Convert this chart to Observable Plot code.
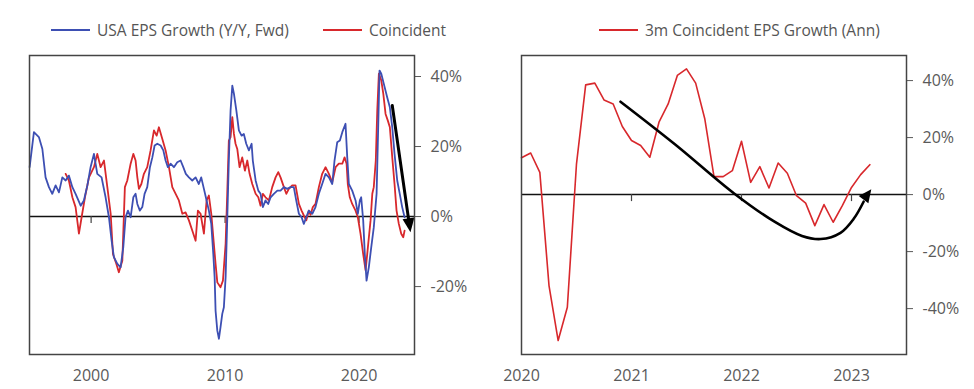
<!DOCTYPE html>
<html><head><meta charset="utf-8">
<script src="https://cdn.jsdelivr.net/npm/d3@7"></script>
<script src="https://cdn.jsdelivr.net/npm/@observablehq/plot@0.6"></script>
<style>
body{margin:0;background:#fff;font-family:"Open Sans",sans-serif;}
#wrap{display:flex;width:974px;height:389px;overflow:hidden;}
.panel{width:487px;position:relative;}
.legend{height:45px;position:relative;font-size:15.5px;color:#555;}
.item{position:absolute;top:20px;display:flex;align-items:center;white-space:nowrap;line-height:20px;}
.sw{width:39px;height:2.5px;margin-right:7px;}
svg{display:block;}
</style></head><body>
<div id="wrap">
  <div class="panel" id="left">
    <div class="legend">
      <div class="item" style="left:51px"><span class="sw" style="background:#3d4fb3"></span>USA EPS Growth (Y/Y, Fwd)</div>
      <div class="item" style="left:323px"><span class="sw" style="background:#d8282c"></span>Coincident</div>
    </div>
  </div>
  <div class="panel" id="right">
    <div class="legend">
      <div class="item" style="left:112px"><span class="sw" style="background:#d8282c"></span>3m Coincident EPS Growth (Ann)</div>
    </div>
  </div>
</div>
<script>
// ---------- Left panel data (decimal years, % growth) ----------
const blueYears = [1995.41,1995.73,1996.10,1996.36,1996.60,1996.85,1997.10,1997.35,1997.60,1997.85,1998.10,1998.34,1998.60,1998.84,1999.22,1999.46,1999.72,1999.96,2000.21,2000.46,2000.78,2001.08,2001.33,2001.53,2001.70,2001.96,2002.20,2002.40,2002.57,2002.75,2002.95,2003.15,2003.32,2003.45,2003.64,2003.82,2003.99,2004.19,2004.39,2004.57,2004.74,2004.94,2005.19,2005.39,2005.56,2005.73,2005.93,2006.18,2006.43,2006.68,2006.88,2007.07,2007.30,2007.55,2007.80,2008.04,2008.22,2008.42,2008.62,2008.79,2008.97,2009.12,2009.22,2009.29,2009.42,2009.54,2009.66,2009.79,2009.91,2010.04,2010.16,2010.28,2010.41,2010.54,2010.66,2010.84,2011.03,2011.23,2011.40,2011.58,2011.78,2011.98,2012.07,2012.28,2012.48,2012.65,2012.82,2013.02,2013.22,2013.40,2013.64,2013.90,2014.14,2014.39,2014.64,2014.89,2015.13,2015.31,2015.51,2015.71,2015.88,2016.06,2016.25,2016.51,2016.75,2017.00,2017.25,2017.50,2017.75,2018.00,2018.17,2018.37,2018.57,2018.75,2018.99,2019.12,2019.24,2019.49,2019.74,2019.91,2020.06,2020.16,2020.31,2020.43,2020.56,2020.73,2020.91,2021.10,2021.31,2021.43,2021.53,2021.66,2021.85,2022.10,2022.30,2022.48,2022.65,2022.85,2023.04,2023.22,2023.40];
const blueValues = [14.1,24.1,22.7,19.3,11.2,8.4,6.5,8.9,6.9,11.2,10.3,11.7,8.4,6.5,3.1,4.6,8.9,14.1,17.9,12.2,11.2,5.5,-0.2,-6.9,-11.6,-13.5,-14.5,-8.8,-0.2,1.7,-0.2,5.5,6.5,3.6,1.7,2.7,6.5,8.4,14.1,16.9,20.3,20.8,20.3,18.9,16,14.1,15.1,14.1,15.5,16,14.1,12.2,11.2,10.3,11.2,9.3,11.2,7.9,4.6,1.7,-2.1,-10.7,-17.3,-26.9,-32.6,-34.9,-31.6,-27.8,-25.9,-17.3,-1.1,16,30.3,37.4,35.1,30.3,24.6,23.1,23.6,20.8,18.9,20.8,16,10.3,7.4,6.5,2.7,4.6,3.6,5.5,6.5,7.4,7.4,8.4,7.9,8.4,8.4,4.6,0.8,-0.2,-2.1,-0.2,1.7,0.8,2.7,6.5,9.3,12.2,11.2,9.3,16,21.2,21.7,24.1,26.5,16.9,9.3,7.4,4.6,0.8,4.6,5.5,-1.1,-10.7,-18.3,-14.5,-8.8,-3.1,6.5,25.5,41.7,40.8,37.9,34.1,31.2,25.5,17.9,10.3,6.5,2.7,-0.2];

const redYears = [1998.10,1998.34,1998.60,1998.84,1999.09,1999.29,1999.54,1999.84,2000.21,2000.46,2000.71,2000.96,2001.21,2001.46,2001.63,2001.88,2002.07,2002.33,2002.52,2002.70,2002.95,2003.15,2003.32,2003.45,2003.57,2003.75,2003.94,2004.19,2004.44,2004.69,2004.89,2005.06,2005.31,2005.56,2005.81,2006.06,2006.31,2006.55,2006.81,2007.05,2007.30,2007.55,2007.80,2007.97,2008.17,2008.42,2008.62,2008.79,2008.97,2009.29,2009.42,2009.66,2009.84,2010.04,2010.16,2010.28,2010.41,2010.54,2010.66,2010.78,2010.91,2011.08,2011.28,2011.48,2011.66,2011.83,2012.03,2012.28,2012.48,2012.65,2012.82,2013.02,2013.27,2013.52,2013.77,2013.97,2014.14,2014.39,2014.57,2014.76,2015.01,2015.26,2015.51,2015.71,2015.88,2016.06,2016.25,2016.38,2016.55,2016.75,2017.00,2017.25,2017.50,2017.75,2018.00,2018.25,2018.49,2018.75,2018.92,2019.07,2019.16,2019.31,2019.49,2019.74,2019.91,2020.11,2020.31,2020.49,2020.66,2020.86,2020.99,2021.10,2021.25,2021.36,2021.48,2021.66,2021.81,2021.98,2022.15,2022.30,2022.48,2022.65,2022.80,2022.97,2023.15,2023.30,2023.40];
const redValues = [12.2,10.3,5.5,2.7,-4.9,-0.2,5.5,11.2,14.1,17.9,14.1,16,8.4,0.8,-10.7,-13.5,-15.9,-12.6,8.4,10.3,15.1,17.9,16,11.2,7.9,9.3,12.2,14.1,18.9,24.6,23.1,25.5,22.2,18.9,14.1,8.4,6.5,4.6,0.8,1.2,-1.1,-4,-6.9,1.7,0.8,-4.9,4.6,6,0.8,-13.5,-18.8,-20.2,-18.3,-7.8,6.5,21.7,22.7,28.4,23.6,20.8,19.3,14.1,16.9,13.1,16,12.2,9.3,6.5,5.5,3.1,6.5,5.5,4.6,8.4,11.2,12.7,11.2,8.4,6.5,7.9,8.9,8.9,3.6,1.7,0.3,-1.1,1.7,0.5,2.7,3.6,8.4,12.2,14.1,12.2,9.8,14.1,15.1,15.1,16.9,15.1,9.3,5.5,3.6,1.7,-0.2,-4.9,-10.7,-15.4,-8.8,-1.1,6.5,8.4,16,30.3,40.8,38.9,35.1,29.3,27.4,25.5,16.9,9.3,1.7,-2.1,-4.9,-5.9,-4];

const leftXTicks = [2000, 2010, 2020];
const leftYTicks = [-20, 0, 20, 40];
// annotation arrow (left): shaft points and head tip
const leftArrowYears = [2022.48, 2023.70];
const leftArrowValues = [31.7, -0.8];
const leftHeadYear = [2023.84];
const leftHeadValue = [-4.5];

// ---------- Right panel data (monthly, annualised %) ----------
const rightMonths = ["2020-01","2020-02","2020-03","2020-04","2020-05","2020-06","2020-07","2020-08","2020-09","2020-10","2020-11","2020-12",
  "2021-01","2021-02","2021-03","2021-04","2021-05","2021-06","2021-07","2021-08","2021-09","2021-10","2021-11","2021-12",
  "2022-01","2022-02","2022-03","2022-04","2022-05","2022-06","2022-07","2022-08","2022-09","2022-10","2022-11","2022-12",
  "2023-01","2023-02","2023-03"];
const rightValues = [12.9,14.6,7.8,-31.9,-51.2,-39.5,10.8,38.5,39.1,33.2,31.8,23.9,
  19.0,17.2,13.1,25.4,31.8,41.8,44.1,39.1,26.5,6.3,6.3,8.4,
  18.7,4.3,9.8,2.3,11.1,7.5,-0.4,-3.0,-10.9,-3.5,-9.7,-3.9,
  2.5,7.0,10.5];
const rightXTicks = [2020, 2021, 2022, 2023];
const rightYTicks = [-40, -20, 0, 20, 40];
const rightArrowYears = [2020.90, 2021.40, 2021.93, 2022.30, 2022.55, 2022.72, 2022.90, 2023.02, 2023.11];
const rightArrowValues = [32.6, 17.5, 0.5, -9.5, -14.5, -15.6, -13.4, -8.5, -2.5];
const rightHeadYear = [2023.18];
const rightHeadValue = [1.9];

// ---------- helpers ----------
const BLUE = "#3d4fb3", RED = "#d8282c";
const pts = (xs, ys) => xs.map((x, i) => ({x, y: ys[i]}));
const monthToYear = m => { const [y, mo] = m.split("-").map(Number); return y + (mo - 1) / 12; };
function head(angleDeg, len, hw) {
  const a = angleDeg * Math.PI / 180, c = Math.cos(a), s = Math.sin(a);
  const p = (x, y) => [x * c - y * s, x * s + y * c];
  return {draw(ctx) {
    const [x1, y1] = p(-len, -hw), [x2, y2] = p(-len, hw);
    ctx.moveTo(0, 0); ctx.lineTo(x1, y1); ctx.lineTo(x2, y2); ctx.closePath();
  }};
}
const style = {fontFamily: "'Open Sans', sans-serif", fontSize: "16px", color: "#5a5a5a", background: "transparent", overflow: "visible"};
const pct = d => `${d}%`;

const leftPlot = Plot.plot({
  width: 487, height: 344,
  marginTop: 10, marginBottom: 35, marginLeft: 29, marginRight: 73,
  style,
  x: {domain: [1995.40, 2024.14], ticks: leftXTicks, tickFormat: d => String(d), tickSize: 0, tickPadding: 15, label: null},
  y: {domain: [-39.4, 46], axis: "right", ticks: leftYTicks, tickFormat: pct, tickSize: 6, tickPadding: 10, label: null},
  marks: [
    Plot.ruleY([0], {stroke: "#111", strokeWidth: 1.5}),
    Plot.ruleX(leftXTicks, {x: d => d, y1: () => 0, y2: () => 0, insetBottom: -7, stroke: "#444", strokeWidth: 1.2}),
    Plot.line(pts(redYears, redValues), {x: "x", y: "y", stroke: RED, strokeWidth: 1.8}),
    Plot.line(pts(blueYears, blueValues), {x: "x", y: "y", stroke: BLUE, strokeWidth: 1.8}),
    Plot.line(pts(leftArrowYears, leftArrowValues), {x: "x", y: "y", stroke: "#000", strokeWidth: 3}),
    Plot.dot(pts(leftHeadYear, leftHeadValue), {x: "x", y: "y", symbol: head(81.8, 14, 6), fill: "#000", stroke: "none"}),
    Plot.frame({stroke: "#444", strokeWidth: 1.5})
  ]
});
document.getElementById("left").appendChild(leftPlot);

const rightPlot = Plot.plot({
  width: 487, height: 344,
  marginTop: 10, marginBottom: 35, marginLeft: 34, marginRight: 68,
  style,
  x: {domain: [2020, 2023.5], ticks: rightXTicks, tickFormat: d => String(d), tickSize: 0, tickPadding: 15, label: null},
  y: {domain: [-56.1, 48.8], axis: "right", ticks: rightYTicks, tickFormat: pct, tickSize: 6, tickPadding: 10, label: null},
  marks: [
    Plot.ruleY([0], {stroke: "#111", strokeWidth: 1.5}),
    Plot.ruleX(rightXTicks.slice(1), {x: d => d, y1: () => 0, y2: () => 0, insetBottom: -7, stroke: "#444", strokeWidth: 1.2}),
    Plot.line(pts(rightMonths.map(monthToYear), rightValues), {x: "x", y: "y", stroke: RED, strokeWidth: 1.6}),
    Plot.line(pts(rightArrowYears, rightArrowValues), {x: "x", y: "y", stroke: "#000", strokeWidth: 2.6, curve: "catmull-rom"}),
    Plot.dot(pts(rightHeadYear, rightHeadValue), {x: "x", y: "y", symbol: head(-53.4, 13, 6), fill: "#000", stroke: "none"}),
    Plot.frame({stroke: "#444", strokeWidth: 1.5})
  ]
});
document.getElementById("right").appendChild(rightPlot);
</script>
</body></html>
